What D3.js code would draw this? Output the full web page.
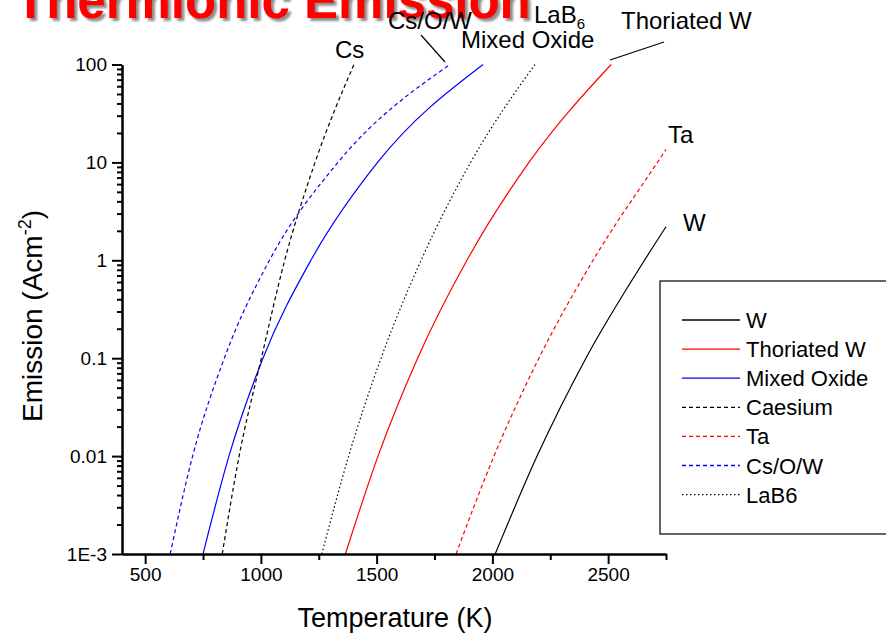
<!DOCTYPE html>
<html>
<head>
<meta charset="utf-8">
<script src="https://cdn.jsdelivr.net/npm/d3@7"></script>
<style>
  body { margin: 0; background: #fff; }
  svg { display: block; font-family: "Liberation Sans", Arial, sans-serif; }
</style>
</head>
<body>
<svg id="chart" width="886" height="636"></svg>
<script>
// temperatures (K) where each curve crosses the decades
const tempW = [2012, 2193, 2404, 2657, 2750];
const jW = [0.001, 0.01, 0.1, 1, 2.2];
const tempThW = [1365, 1506, 1677, 1890, 2158, 2513];
const jThW = [0.001, 0.01, 0.1, 1, 10, 100];
const tempMixed = [750, 862, 1009, 1216, 1504, 1960];
const jMixed = [0.001, 0.01, 0.1, 1, 10, 100];
const tempCs = [833, 906, 1002, 1103, 1234, 1402];
const jCs = [0.001, 0.01, 0.1, 1, 10, 100];
const tempTa = [1843, 2007, 2201, 2435, 2713, 2750];
const jTa = [0.001, 0.01, 0.1, 1, 10, 13.5];
const tempCsOW = [608, 705, 842, 1037, 1333, 1817];
const jCsOW = [0.001, 0.01, 0.1, 1, 10, 100];
const tempLaB6 = [1263, 1379, 1519, 1692, 1906, 2184];
const jLaB6 = [0.001, 0.01, 0.1, 1, 10, 100];

const legendNames = ["W", "Thoriated W", "Mixed Oxide", "Caesium", "Ta", "Cs/O/W", "LaB6"];
const xTicks = [500, 1000, 1500, 2000, 2500];
const xMinorTicks = [750, 1250, 1750, 2250, 2750];
const yTicks = [1e-3, 0.01, 0.1, 1, 10, 100];
const yTickLabels = ["1E-3", "0.01", "0.1", "1", "10", "100"];

const svg = d3.select('#chart');

const x = d3.scaleLinear().domain([400, 2750]).range([122, 666]);
const y = d3.scaleLog().domain([1e-3, 100]).range([554, 64.5]);

const series = [
    { t: tempW, j: jW, color: "#000", dash: null },
    { t: tempThW, j: jThW, color: "#ff0000", dash: null },
    { t: tempMixed, j: jMixed, color: "#0000ff", dash: null },
    { t: tempCs, j: jCs, color: "#000", dash: "4,3" },
    { t: tempTa, j: jTa, color: "#ff0000", dash: "4,3" },
    { t: tempCsOW, j: jCsOW, color: "#0000ff", dash: "4,3" },
    { t: tempLaB6, j: jLaB6, color: "#000", dash: "1.5,2.5" }
];

// title, clipped at the top of the page
const defs = svg.append("defs");
defs.append("filter").attr("id", "soft")
    .append("feGaussianBlur").attr("stdDeviation", 1.2);

const titleX = 15, titleY = 18;
svg.append("text")
    .attr("x", titleX + 3)
    .attr("y", titleY + 3)
    .attr("font-size", 51)
    .attr("font-weight", "bold")
    .attr("fill", "#8f8f8f")
    .attr("filter", "url(#soft)")
    .text("Thermionic Emission");
svg.append("text")
    .attr("x", titleX)
    .attr("y", titleY)
    .attr("font-size", 51)
    .attr("font-weight", "bold")
    .attr("fill", "#ff0000")
    .text("Thermionic Emission");

// curves
const line = d3.line()
    .x(d => x(d[0]))
    .y(d => y(d[1]))
    .curve(d3.curveMonotoneX);

series.forEach(function(s) {
    const pts = s.t.map((t, i) => [t, s.j[i]]);
    svg.append("path")
        .attr("d", line(pts))
        .attr("fill", "none")
        .attr("stroke", s.color)
        .attr("stroke-width", 1.2)
        .attr("stroke-dasharray", s.dash);
});

// axes
svg.append("g")
    .attr("transform", "translate(0,554)")
    .call(d3.axisBottom(x).tickValues(xTicks).tickSize(10).tickSizeOuter(0).tickPadding(4)
        .tickFormat(d3.format("d")));
svg.append("g")
    .attr("transform", "translate(0,554)")
    .call(d3.axisBottom(x).tickValues(xMinorTicks).tickSize(6).tickSizeOuter(0).tickFormat(""));

let minorY = [];
[0.001, 0.01, 0.1, 1, 10].forEach(function(dec) {
    for (let k = 2; k <= 9; k++) minorY.push(dec * k);
});
svg.append("g")
    .attr("transform", "translate(122,0)")
    .call(d3.axisLeft(y).tickValues(yTicks).tickSize(10).tickSizeOuter(0).tickPadding(5)
        .tickFormat((d, i) => yTickLabels[i]));
svg.append("g")
    .attr("transform", "translate(122,0)")
    .call(d3.axisLeft(y).tickValues(minorY).tickSize(5).tickSizeOuter(0).tickFormat(""));

svg.selectAll(".domain").attr("stroke-width", 2).attr("stroke", "#000");
svg.selectAll(".tick line").attr("stroke-width", 2).attr("stroke", "#000");
svg.selectAll(".tick text")
    .attr("font-size", 19)
    .attr("font-family", "Liberation Sans, Arial, sans-serif")
    .attr("fill", "#000");

// axis titles
svg.append("text")
    .attr("x", 395)
    .attr("y", 627)
    .attr("text-anchor", "middle")
    .attr("font-size", 27)
    .text("Temperature (K)");

const yTitle = svg.append("text")
    .attr("transform", "translate(42,316) rotate(-90)")
    .attr("text-anchor", "middle")
    .attr("font-size", 28);
yTitle.append("tspan").text("Emission (Acm");
yTitle.append("tspan").attr("font-size", 18).attr("dy", -11).text("-2");
yTitle.append("tspan").attr("dy", 11).text(")");

// curve labels
const annotate = function(txt, tx, ty) {
    return svg.append("text")
        .attr("x", tx)
        .attr("y", ty)
        .attr("font-size", 24)
        .text(txt);
}
annotate("Cs", 335, 58);
annotate("Cs/O/W", 388, 29);
annotate("Mixed Oxide", 461, 48);
annotate("Thoriated W", 621, 29);
annotate("Ta", 668, 143);
annotate("W", 683, 231);
const lab = annotate("LaB", 534, 23);
lab.append("tspan").attr("font-size", 15).attr("dy", 6).text("6");

svg.append("line")
    .attr("x1", 421).attr("y1", 35).attr("x2", 445).attr("y2", 62)
    .attr("stroke", "#000").attr("stroke-width", 1.2);
svg.append("line")
    .attr("x1", 664).attr("y1", 42).attr("x2", 610).attr("y2", 60)
    .attr("stroke", "#000").attr("stroke-width", 1.2);

// legend
svg.append("rect")
    .attr("x", 660)
    .attr("y", 281)
    .attr("width", 240)
    .attr("height", 253)
    .attr("fill", "#fff")
    .attr("stroke", "#000")
    .attr("stroke-width", 1.2);

legendNames.forEach(function(name, i) {
    const ly = 320 + i * 29.1;
    svg.append("line")
        .attr("x1", 682).attr("x2", 740)
        .attr("y1", ly).attr("y2", ly)
        .attr("stroke", series[i].color)
        .attr("stroke-width", 1.3)
        .attr("stroke-dasharray", series[i].dash);
    svg.append("text")
        .attr("x", 746)
        .attr("y", ly + 8)
        .attr("font-size", 22)
        .text(name);
});
</script>
</body>
</html>
